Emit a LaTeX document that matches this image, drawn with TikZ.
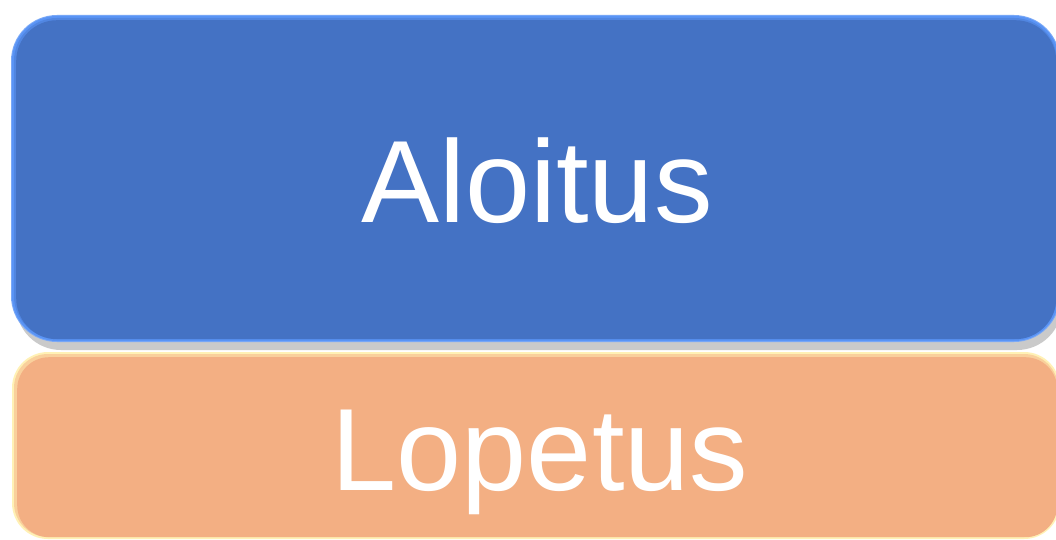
\documentclass[tikz,border=0pt]{standalone}
\usepackage{fontspec}
\setmainfont{Liberation Sans}
\definecolor{bluefill}{HTML}{4472C4}
\definecolor{blueglow}{HTML}{5A94F5}
\definecolor{orangefill}{HTML}{F3AF83}
\definecolor{orangeglow}{HTML}{FFF1B5}
\definecolor{shadowgray}{HTML}{BDBDBD}
\begin{document}
\begin{tikzpicture}[x=1pt,y=-1pt,
  bigtext/.style={text=white,font=\fontsize{117}{117}\selectfont,anchor=base,inner sep=0pt}]
\useasboundingbox (0,0) rectangle (1056,540);
\fill[white] (0,0) rectangle (1056,540);
% shadow under blue box
\fill[shadowgray,opacity=0.8,rounded corners=45pt] (16,30) rectangle (1062,350);
% blue box with glow
\fill[blueglow!80!white,rounded corners=46pt] (11,15) rectangle (1060,342);
\fill[blueglow,rounded corners=45pt] (12,16) rectangle (1059,341);
\fill[blueglow!60!bluefill,rounded corners=43pt] (14,18) rectangle (1057,339);
\node[fill=bluefill,rounded corners=41pt,minimum width=1040pt,minimum height=319pt,inner sep=0pt,anchor=north west] (start) at (16,20) {};
% orange box with glow
\fill[orangeglow,rounded corners=36pt] (12,352) rectangle (1060,539);
\fill[orangeglow!50!orangefill,rounded corners=34pt] (14,354) rectangle (1058,537);
\node[fill=orangefill,rounded corners=32pt,minimum width=1040pt,minimum height=180pt,inner sep=0pt,anchor=north west] (end) at (17,357) {};
\node[bigtext] (aloitus) at (537,222) {Aloitus};
\node[bigtext] (lopetus) at (540,490) {Lopetus};
\end{tikzpicture}
\end{document}
